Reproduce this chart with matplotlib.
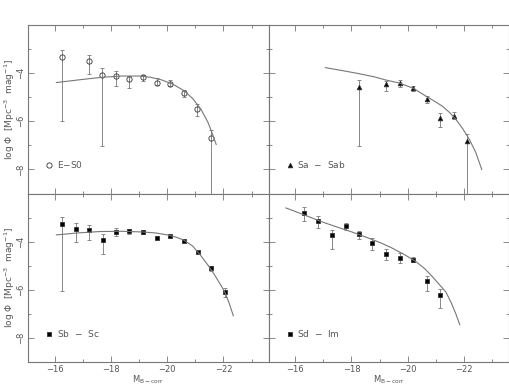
import matplotlib.pyplot as plt
from matplotlib.lines import Line2D
from matplotlib.ticker import MultipleLocator, FixedLocator

# E-S0
es0_mag = [-16.26, -17.21, -17.69, -18.18, -18.65, -19.15, -19.63, -20.11, -20.58, -21.06, -21.56]
es0_phi = [-3.32, -3.49, -4.08, -4.11, -4.25, -4.14, -4.40, -4.47, -4.83, -5.50, -6.68]
es0_hi = [-3.04, -3.25, -3.77, -3.93, -4.12, -4.06, -4.22, -4.30, -4.70, -5.30, -6.37]
es0_lo = [-5.99, -4.04, -7.03, -4.53, -4.60, -4.33, -4.50, -4.52, -5.00, -5.76, -9.00]
es0_fit_mag = [-16.06, -17.0, -17.7, -18.4, -19.0, -19.4, -19.8, -20.2, -20.6, -20.9, -21.2, -21.45, -21.6, -21.74]
es0_fit_phi = [-4.39, -4.26, -4.17, -4.12, -4.12, -4.17, -4.28, -4.46, -4.73, -5.05, -5.50, -6.05, -6.50, -6.96]

# Sa - Sab
sa_mag = [-18.26, -19.24, -19.71, -20.19, -20.67, -21.16, -21.63, -22.12]
sa_phi = [-4.56, -4.45, -4.42, -4.63, -5.06, -5.85, -5.77, -6.82]
sa_hi = [-4.28, -4.32, -4.29, -4.52, -4.95, -5.64, -5.61, -6.54]
sa_lo = [-7.03, -4.74, -4.57, -4.76, -5.25, -6.24, -5.92, -9.00]
sa_fit_mag = [-17.07, -17.7, -18.26, -18.8, -19.2, -19.7, -20.2, -20.64, -21.0, -21.24, -21.5, -21.71, -21.95, -22.19, -22.42, -22.63]
sa_fit_phi = [-3.77, -3.90, -4.02, -4.15, -4.28, -4.41, -4.63, -4.95, -5.20, -5.38, -5.65, -5.92, -6.30, -6.75, -7.30, -8.00]

# Sb - Sc
sb_mag = [-16.25, -16.75, -17.22, -17.70, -18.18, -18.65, -19.15, -19.63, -20.11, -20.58, -21.08, -21.56, -22.04]
sb_phi = [-3.28, -3.47, -3.51, -3.95, -3.58, -3.57, -3.60, -3.83, -3.76, -3.97, -4.43, -5.08, -6.11]
sb_hi = [-2.96, -3.21, -3.29, -3.67, -3.44, -3.49, -3.53, -3.78, -3.71, -3.92, -4.38, -5.00, -5.94]
sb_lo = [-6.06, -4.03, -3.92, -4.51, -3.76, -3.68, -3.68, -3.88, -3.81, -4.02, -4.48, -5.20, -6.29]
sb_fit_mag = [-16.06, -16.8, -17.6, -18.4, -19.15, -19.6, -20.0, -20.3, -20.58, -20.9, -21.18, -21.45, -21.65, -21.85, -22.04, -22.2, -22.35]
sb_fit_phi = [-3.72, -3.64, -3.58, -3.57, -3.60, -3.64, -3.72, -3.81, -3.93, -4.18, -4.56, -4.98, -5.32, -5.70, -6.08, -6.55, -7.08]

# Sd - Im
sd_mag = [-16.32, -16.81, -17.29, -17.79, -18.26, -18.74, -19.21, -19.71, -20.19, -20.67, -21.16]
sd_phi = [-2.79, -3.14, -3.72, -3.36, -3.68, -4.07, -4.50, -4.67, -4.75, -5.64, -6.20]
sd_hi = [-2.58, -2.93, -3.51, -3.21, -3.55, -3.83, -4.31, -4.49, -4.62, -5.43, -5.97]
sd_lo = [-3.14, -3.44, -4.31, -3.51, -3.90, -4.35, -4.76, -4.90, -4.86, -6.03, -6.74]
sd_fit_mag = [-15.67, -16.3, -16.84, -17.4, -18.02, -18.6, -19.1, -19.45, -19.9, -20.29, -20.6, -20.88, -21.1, -21.36, -21.55, -21.71, -21.85]
sd_fit_phi = [-2.60, -2.88, -3.13, -3.36, -3.60, -3.85, -4.08, -4.27, -4.55, -4.83, -5.12, -5.46, -5.75, -6.10, -6.55, -7.00, -7.45]

panels = [
    (es0_mag, es0_phi, es0_hi, es0_lo, es0_fit_mag, es0_fit_phi, 'E$-$S0', 'o', 'none', 3.8),
    (sa_mag, sa_phi, sa_hi, sa_lo, sa_fit_mag, sa_fit_phi, 'Sa  $-$  Sab', '^', 'k', 3.3),
    (sb_mag, sb_phi, sb_hi, sb_lo, sb_fit_mag, sb_fit_phi, 'Sb  $-$  Sc', 's', 'k', 2.2),
    (sd_mag, sd_phi, sd_hi, sd_lo, sd_fit_mag, sd_fit_phi, 'Sd  $-$  Im', 's', 'k', 2.2),
]

gray = '#777777'
txt = '#555555'
fig = plt.figure(figsize=(5.1, 3.88), dpi=100)
W, H = 510.0, 388.0
lefts = [28, 268.5]
tops = [25, 193.5]
pw, ph = 240.5, 168.5

for i, (m, p, hi, lo, fm, fp, lab, mk, fc, ms) in enumerate(panels):
    r, c = divmod(i, 2)
    ax = fig.add_axes([lefts[c] / W, 1 - (tops[r] + ph) / H, pw / W, ph / H])
    yerr = [[pi - l for pi, l in zip(p, lo)], [h - pi for pi, h in zip(p, hi)]]
    ax.errorbar(m, p, yerr=yerr, fmt='none', ecolor='#888888', elinewidth=0.7,
                capsize=1.5, capthick=0.7)
    ax.plot(m, p, linestyle='none', marker=mk, ms=ms, mfc=fc, mec='#333333', mew=0.6)
    ax.plot(fm, fp, color=gray, lw=0.8)
    ax.set_xlim(-15.05, -23.6)
    ax.set_ylim(-9, -2)
    ax.xaxis.set_major_locator(MultipleLocator(2))
    ax.xaxis.set_minor_locator(MultipleLocator(1))
    ax.yaxis.set_major_locator(FixedLocator([-8, -6, -4]))
    ax.yaxis.set_minor_locator(MultipleLocator(1))
    ax.tick_params(which='both', direction='in', top=True, right=True, colors=gray,
                   labelsize=6, labelcolor=txt, width=0.6)
    ax.tick_params(which='major', length=4)
    ax.tick_params(which='minor', length=2)
    ax.tick_params(axis='y', labelrotation=90, pad=2)
    ax.tick_params(axis='x', pad=2.5)
    for s in ax.spines.values():
        s.set_color(gray)
        s.set_linewidth(0.8)
    if r == 0:
        ax.set_xticklabels([])
    else:
        fig.text((lefts[c] + pw / 2) / W, 0.004, r'$\mathregular{M_{B-corr}}$',
                 fontsize=6, color=txt, ha='center', va='bottom')
    if c == 1:
        ax.set_yticklabels([])
    else:
        for t in ax.get_yticklabels():
            t.set_verticalalignment('center')
        fig.text(10 / W, 1 - (tops[r] + ph / 2) / H, r'log $\Phi$  [Mpc$^{-3}$  mag$^{-1}$]',
                 fontsize=6.5, color=txt, rotation=90, ha='center', va='center')
    handle = Line2D([], [], linestyle='none', marker=mk, ms=ms, mfc=fc, mec='#333333', mew=0.6)
    ax.legend([handle], [lab], loc='lower left', bbox_to_anchor=(0.04, 0.09), frameon=False,
              fontsize=6.5, handlelength=0.8, handletextpad=0.4, labelcolor=txt)

fig.savefig('out.png', dpi=100)
